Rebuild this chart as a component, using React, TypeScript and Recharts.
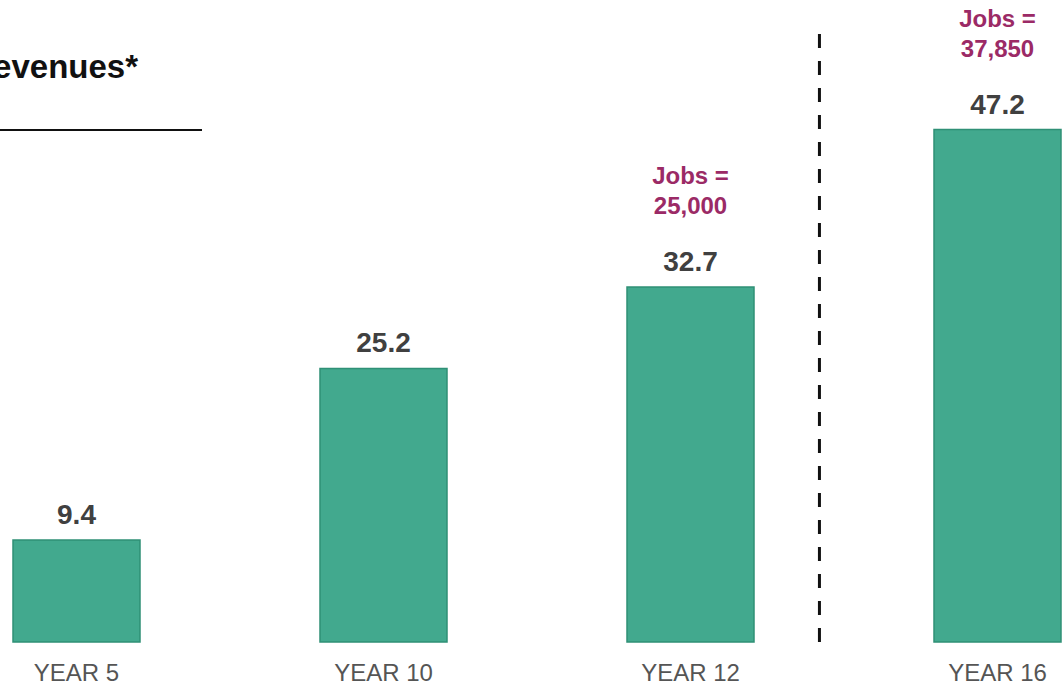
import { BarChart, Bar, XAxis, YAxis, LabelList, ReferenceLine } from 'recharts';

const years = ['YEAR 5', 'YEAR 10', 'YEAR 12', 'YEAR 16'];
const revenues = [9.4, 25.2, 32.7, 47.2];
const jobs = [null, null, '25,000', '37,850'];
// the dashed divider sits a bit left of the midpoint between YEAR 12 and YEAR 16
const dividerAt = 2.42;

const data = years.map((year, i) => ({ idx: i, year, revenue: revenues[i], jobs: jobs[i] }));

const FONT = '"Liberation Sans", Arial, sans-serif';

function YearTick({ x, y, payload }: any) {
  return (
    <text x={x} y={y + 31} textAnchor="middle" fontFamily={FONT} fontSize={24} fill="#555">
      {years[payload.value]}
    </text>
  );
}

function JobsLabel({ x, y, width, value }: any) {
  if (!value) return null;
  const cx = x + width / 2;
  return (
    <g fontFamily={FONT} fontSize={24} fontWeight="bold" fill="#9b2a66" textAnchor="middle">
      <text x={cx} y={y - 103}>Jobs =</text>
      <text x={cx} y={y - 73}>{value}</text>
    </g>
  );
}

export default function App() {
  return (
    <div style={{ position: 'absolute', left: 0, top: 0, width: 1063, height: 686, overflow: 'hidden', background: '#fff', fontFamily: FONT }}>
      <div style={{ position: 'absolute', right: 925, top: 48, whiteSpace: 'nowrap', fontSize: 33, fontWeight: 'bold', color: '#111' }}>
        Revenues*
      </div>
      <div style={{ position: 'absolute', left: 0, top: 129, width: 202, height: 2, background: '#111' }} />
      <div style={{ position: 'absolute', left: -77, top: 0 }}>
        <BarChart width={1228} height={686} data={data} margin={{ top: 34, right: 0, bottom: 0, left: 0 }}>
          <XAxis
            type="number"
            dataKey="idx"
            domain={[-0.5, 3.5]}
            ticks={[0, 1, 2, 3]}
            height={44}
            axisLine={false}
            tickLine={false}
            tick={<YearTick />}
            interval={0}
          />
          <YAxis hide domain={[0, 56]} />
          <ReferenceLine x={dividerAt} stroke="#111" strokeWidth={3} strokeDasharray="14 13" />
          <Bar dataKey="revenue" barSize={127} fill="#42a98e" stroke="#2f9076" strokeWidth={1.5} isAnimationActive={false}>
            <LabelList dataKey="revenue" position="top" offset={16} fontFamily={FONT} fontSize={28} fontWeight="bold" fill="#404040" />
            <LabelList dataKey="jobs" content={<JobsLabel />} />
          </Bar>
        </BarChart>
      </div>
    </div>
  );
}
